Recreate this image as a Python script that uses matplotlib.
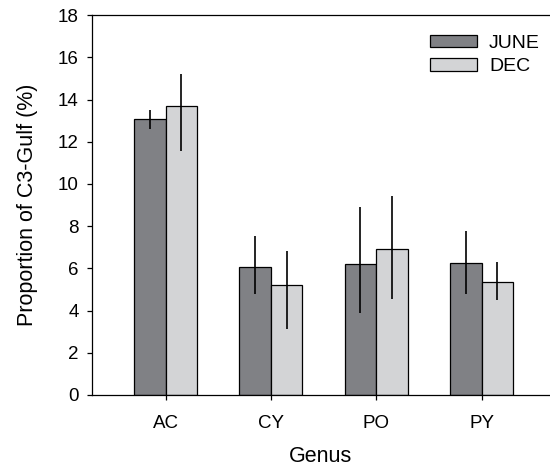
import numpy as np
import matplotlib
matplotlib.use("Agg")
from matplotlib import pyplot as plt

plt.rcParams['font.family'] = ['Liberation Sans', 'DejaVu Sans']

genus = ["AC", "CY", "PO", "PY"]
june = [13.1, 6.08, 6.19, 6.25]
june_lo = [0.5, 1.31, 2.29, 1.47]
june_hi = [0.4, 1.45, 2.73, 1.52]
dec = [13.69, 5.2, 6.9, 5.37]
dec_lo = [2.15, 2.06, 2.37, 0.87]
dec_hi = [1.5, 1.64, 2.53, 0.92]

fig = plt.figure(figsize=(5.5, 4.73), dpi=100)
ax = fig.add_axes([0.167, 0.165, 0.833, 0.803])

x = np.arange(len(genus))
w = 0.3
ax.bar(x - w / 2, june, w, color="#808185", edgecolor="black", linewidth=0.9, label="JUNE")
ax.bar(x + w / 2, dec, w, color="#d3d4d6", edgecolor="black", linewidth=0.9, label="DEC")
ax.errorbar(x - w / 2, june, yerr=[june_lo, june_hi], fmt="none", ecolor="black", elinewidth=1.2, capsize=0)
ax.errorbar(x + w / 2, dec, yerr=[dec_lo, dec_hi], fmt="none", ecolor="black", elinewidth=1.2, capsize=0)

ax.set_xlim(-0.7, 3.65)
ax.set_ylim(0, 18)
ax.set_yticks(range(0, 19, 2))
ax.set_xticks(x)
ax.set_xticklabels(genus)
ax.spines["right"].set_visible(False)
for s in ax.spines.values():
    s.set_linewidth(0.9)
ax.tick_params(direction="out", length=3.6, width=0.9, labelsize=13.5)
ax.tick_params(axis="x", pad=11)
ax.tick_params(axis="y", pad=6)
ax.set_xlabel("Genus", fontsize=15.5, labelpad=10)
ax.set_ylabel("Proportion of C3-Gulf (%)", fontsize=15.5, labelpad=14)

ax.legend(loc="upper right", frameon=False, fontsize=14, handlelength=2.45,
          handleheight=0.6, bbox_to_anchor=(1.016, 0.995), labelspacing=0.35,
          handletextpad=0.6)

fig.savefig("out.png", dpi=100)
